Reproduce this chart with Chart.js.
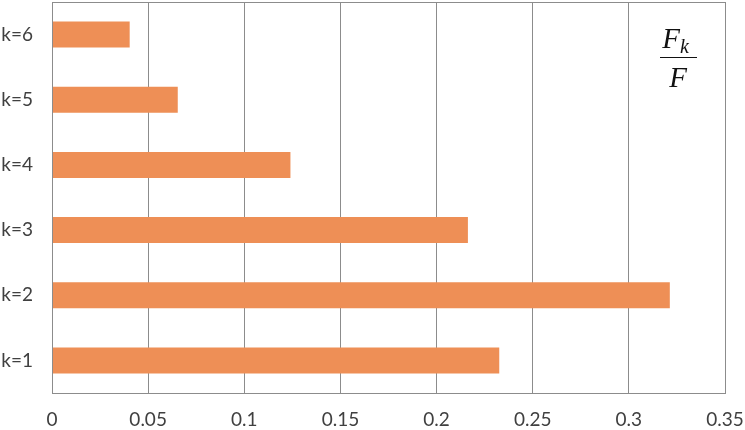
<!DOCTYPE html>
<html>
<head>
<meta charset="utf-8">
<script src="https://cdn.jsdelivr.net/npm/chart.js@4.4.0/dist/chart.umd.min.js"></script>
<style>
  html, body { margin: 0; padding: 0; background: #fff; }
  #wrap { width: 745px; height: 430px; }
</style>
</head>
<body>
<div id="wrap"><canvas id="chart" width="745" height="430"></canvas></div>
<script>
// Données
const categories = ['k=1', 'k=2', 'k=3', 'k=4', 'k=5', 'k=6'];
const ratios = [0.2326, 0.3213, 0.2163, 0.124, 0.0654, 0.0404];
const xTicks = [0, 0.05, 0.1, 0.15, 0.2, 0.25, 0.3, 0.35];

// Cadre autour de la zone du graphique + annotation Fk/F
const framePlugin = {
    id: 'frame',
    afterDraw(chart) {
        const { ctx, chartArea: a } = chart;
        ctx.save();
        ctx.strokeStyle = '#8c8c8c';
        ctx.lineWidth = 1;
        ctx.strokeRect(Math.round(a.left) + 0.5, Math.round(a.top) + 0.5,
            Math.round(a.right - a.left), Math.round(a.bottom - a.top));

        // fraction F_k / F
        const cx = 678;
        ctx.fillStyle = '#111';
        ctx.textBaseline = 'alphabetic';
        ctx.font = 'italic 29px "Liberation Serif", "DejaVu Serif", serif';
        ctx.textAlign = 'right';
        ctx.fillText('F', cx + 2, 48);
        ctx.font = 'italic 20px "Liberation Serif", "DejaVu Serif", serif';
        ctx.textAlign = 'left';
        ctx.fillText('k', cx + 2, 53);
        ctx.beginPath();
        ctx.moveTo(cx - 18, 57.5);
        ctx.lineTo(cx + 19, 57.5);
        ctx.strokeStyle = '#111';
        ctx.lineWidth = 1.2;
        ctx.stroke();
        ctx.font = 'italic 29px "Liberation Serif", "DejaVu Serif", serif';
        ctx.textAlign = 'center';
        ctx.fillText('F', cx, 87);
        ctx.restore();
    }
};

function createRatioChart() {
    const ctx = document.getElementById('chart').getContext('2d');
    new Chart(ctx, {
        type: 'bar',
        data: {
            labels: categories,
            datasets: [{
                data: ratios,
                backgroundColor: 'rgb(238, 143, 86)',
                borderWidth: 0,
                barPercentage: 0.4,
                categoryPercentage: 1.0
            }]
        },
        options: {
            indexAxis: 'y',
            responsive: false,
            animation: false,
            layout: { padding: { top: 2, right: 20, left: 0, bottom: 0 } },
            plugins: {
                legend: { display: false },
                tooltip: { enabled: false }
            },
            scales: {
                x: {
                    min: 0,
                    max: 0.35,
                    afterBuildTicks: axis => { axis.ticks = xTicks.map(v => ({ value: v })); },
                    grid: { color: '#8c8c8c', drawTicks: false },
                    border: { display: false },
                    ticks: {
                        padding: 15,
                        color: '#404040',
                        font: { family: 'Lato, "Open Sans", sans-serif', size: 19 },
                        callback: v => String(v)
                    },
                    afterFit: axis => {
                        axis.height = 37;
                        axis.paddingLeft = 0;
                        axis.paddingRight = 0;
                    }
                },
                y: {
                    reverse: true,
                    grid: { display: false, drawTicks: false },
                    border: { display: false },
                    ticks: {
                        padding: 19,
                        color: '#404040',
                        font: { family: 'Lato, "Open Sans", sans-serif', size: 19 }
                    },
                    afterFit: axis => {
                        axis.width = 52;
                        axis.paddingTop = 0;
                        axis.paddingBottom = 0;
                    }
                }
            }
        },
        plugins: [framePlugin]
    });
}

createRatioChart();
</script>
</body>
</html>
